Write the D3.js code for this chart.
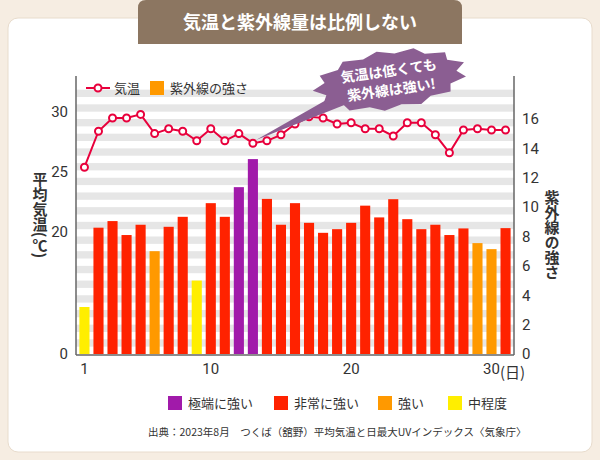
<!DOCTYPE html>
<html><head><meta charset="utf-8">
<script src="https://cdn.jsdelivr.net/npm/d3@7"></script>
<style>body{margin:0;background:#f6ede2;font-family:"Noto Sans CJK JP","Noto Sans",sans-serif}</style>
</head><body><svg id="c" width="600" height="460"></svg>
<script>
const days = d3.range(1,32);
const temps = [25.4,28.4,29.5,29.5,29.8,28.2,28.6,28.4,27.6,28.6,27.6,28.2,27.4,27.6,28.1,29.0,29.6,29.5,29.0,29.1,28.6,28.6,28.0,29.1,29.1,28.1,26.6,28.5,28.6,28.5,28.5];
const uv = [3.2,8.6,9.05,8.1,8.8,7.0,8.66,9.34,5.0,10.27,9.34,11.36,13.27,10.56,8.8,10.27,8.93,8.25,8.5,8.93,10.1,9.3,10.54,9.18,8.5,8.8,8.1,8.55,7.55,7.14,8.57];
const leftTicks = [0,20,25,30];
const rightTicks = [0,2,4,6,8,10,12,14,16];
const xTicks = [1,10,20,30];
const levels = [{name:"極端に強い",c:"#a11aaa"},{name:"非常に強い",c:"#ff2200"},{name:"強い",c:"#ff9900"},{name:"中程度",c:"#ffee00"}];
function level(v){return v>=11?0:v>=8?1:v>=6?2:3;}

const svg=d3.select("#c");
svg.append("rect").attr("x",8).attr("y",18).attr("width",584).attr("height",434).attr("rx",10).attr("fill","#fff").attr("stroke","#e8dccd");
svg.append("path").attr("d","M138,8 Q138,0 146,0 L454,0 Q462,0 462,8 L462,44 L138,44 Z").attr("fill","#8c7661");
svg.append("text").attr("x",300).attr("y",29).attr("text-anchor","middle").attr("fill","#fff").attr("font-size",18).attr("font-weight","bold").text("気温と紫外線量は比例しない");

const x=d3.scaleBand().domain(days).range([78,512]).paddingInner(0.28).paddingOuter(0.1);
const xc=d=>x(d)+x.bandwidth()/2;
const yR=d3.scaleLinear().domain([0,16]).range([354,119]);
const yL=d3.scaleLinear().domain([0,15,30]).range([354,292,112]);
const plotTop=76;
for(let v=0;v<18;v++){
  const ya=yR(v+0.5), yb=yR(v+1);
  if(yb<plotTop) break;
  svg.append("rect").attr("x",76).attr("width",438).attr("y",yb).attr("height",ya-yb).attr("fill","#e6e6e6");
}
svg.append("g").selectAll("rect").data(days).join("rect")
 .attr("x",d=>x(d)).attr("width",x.bandwidth()).attr("y",d=>yR(uv[d-1])).attr("height",d=>yR(0)-yR(uv[d-1]))
 .attr("fill",d=>levels[level(uv[d-1])].c);
svg.append("line").attr("x1",76).attr("x2",76).attr("y1",plotTop).attr("y2",355).attr("stroke","#666").attr("stroke-width",1.5);
svg.append("line").attr("x1",514).attr("x2",514).attr("y1",plotTop).attr("y2",355).attr("stroke","#666").attr("stroke-width",1.5);
svg.append("line").attr("x1",76).attr("x2",514).attr("y1",355).attr("y2",355).attr("stroke","#666").attr("stroke-width",1.5);
const lab=(g)=>g.call(s=>s.select(".domain").remove()).call(s=>s.selectAll("line").remove()).call(s=>s.selectAll("text").attr("fill","#333").attr("font-size",15).attr("font-family","Roboto,'Noto Sans',sans-serif"));
svg.append("g").attr("transform","translate(76,0)").call(d3.axisLeft(yL).tickValues(leftTicks).tickSize(0).tickPadding(8)).call(lab);
svg.append("g").attr("transform","translate(514,0)").call(d3.axisRight(yR).tickValues(rightTicks).tickSize(0).tickPadding(8)).call(lab);
svg.append("g").attr("transform","translate(0,355)").call(d3.axisBottom(x).tickValues(xTicks).tickSize(0).tickPadding(8)).call(lab);
svg.append("text").attr("x",500).attr("y",378).attr("font-size",15).attr("fill","#333").text("(日)");
svg.append("text").attr("transform","translate(40,215)").attr("font-size",15).attr("font-weight","bold").attr("fill","#333").attr("text-anchor","middle").attr("writing-mode","vertical-rl").text("平均気温(℃)");
svg.append("text").attr("transform","translate(552,235)").attr("font-size",15).attr("font-weight","bold").attr("fill","#333").attr("text-anchor","middle").attr("writing-mode","vertical-rl").text("紫外線の強さ");
const line=d3.line().x(d=>xc(d)).y(d=>yL(temps[d-1]));
svg.append("path").datum(days).attr("d",line).attr("fill","none").attr("stroke","#e8003c").attr("stroke-width",2);
svg.append("g").selectAll("circle").data(days).join("circle").attr("cx",xc).attr("cy",d=>yL(temps[d-1])).attr("r",3.5).attr("fill","#fff").attr("stroke","#e8003c").attr("stroke-width",2);
svg.append("line").attr("x1",86).attr("x2",110).attr("y1",88).attr("y2",88).attr("stroke","#e8003c").attr("stroke-width",2);
svg.append("circle").attr("cx",98).attr("cy",88).attr("r",3.5).attr("fill","#fff").attr("stroke","#e8003c").attr("stroke-width",2);
svg.append("text").attr("x",114).attr("y",93).attr("font-size",13).attr("fill","#333").text("気温");
svg.append("rect").attr("x",150).attr("y",81).attr("width",14).attr("height",14).attr("fill","#ff9900");
svg.append("text").attr("x",170).attr("y",93).attr("font-size",13).attr("fill","#333").text("紫外線の強さ");
svg.append("path").attr("d","M335,95 L362,98 L256,140 Z").attr("fill","#8b5e92");
const g=svg.append("g").attr("transform","translate(390,80) rotate(-8)");
const pts=[];const N=26;
for(let i=0;i<N;i++){const a=i/N*2*Math.PI;const r=i%2?1:0.86;pts.push([Math.cos(a)*78*r,Math.sin(a)*30*r]);}
g.append("path").attr("d",d3.line().curve(d3.curveLinearClosed)(pts)).attr("fill","#8b5e92");
g.append("text").attr("text-anchor","middle").attr("y",-4).attr("fill","#fff").attr("font-size",14).attr("font-weight","bold").text("気温は低くても");
g.append("text").attr("text-anchor","middle").attr("y",15).attr("fill","#fff").attr("font-size",14).attr("font-weight","bold").text("紫外線は強い!");
const lx=[168,274,378,448];
levels.forEach((l,i)=>{
  svg.append("rect").attr("x",lx[i]).attr("y",396).attr("width",14).attr("height",14).attr("fill",l.c);
  svg.append("text").attr("x",lx[i]+20).attr("y",408).attr("font-size",13).attr("fill","#333").text(l.name);
});
svg.append("text").attr("x",148).attr("y",436).attr("font-size",10.5).attr("fill","#333").text("出典：2023年8月　つくば（舘野）平均気温と日最大UVインデックス〈気象庁〉");
</script></body></html>
